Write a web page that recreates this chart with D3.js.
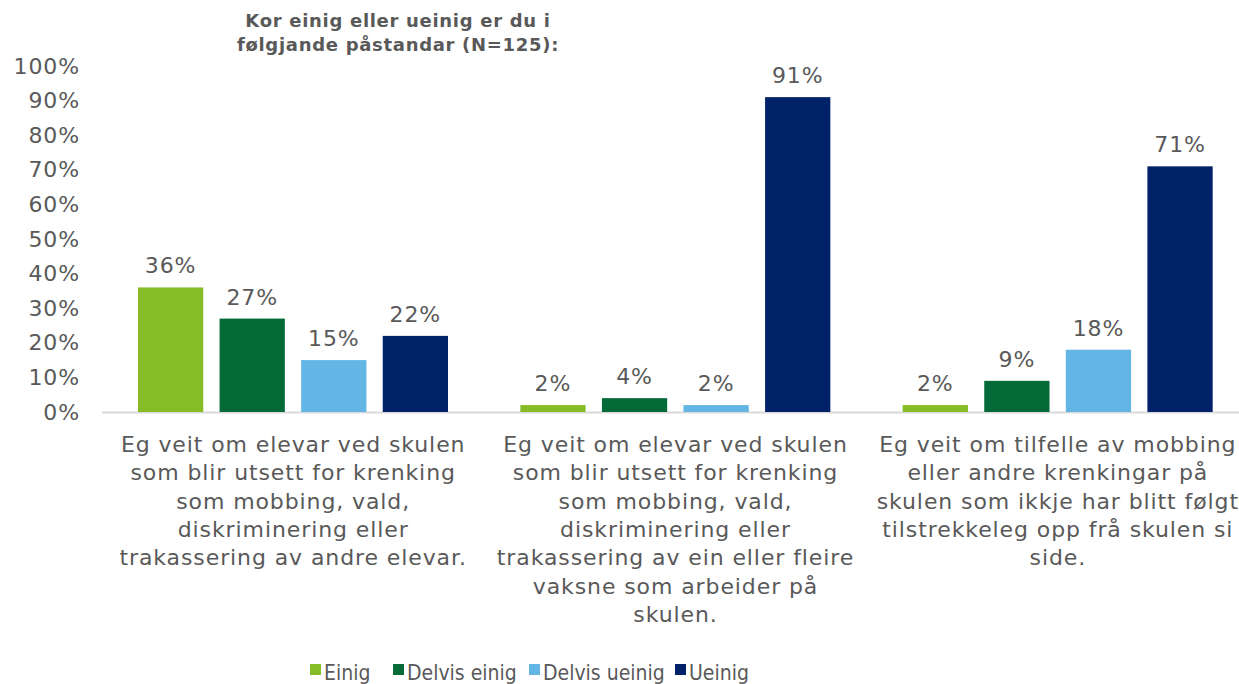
<!DOCTYPE html>
<html lang="en">
<head>
    <meta charset="UTF-8">
    <title>Kor einig eller ueinig</title>
    <style>
        body { margin: 0; background: #fff; }
        svg { display: block; font-family: "DejaVu Sans", Verdana, sans-serif; }
    </style>
    <script src="https://d3js.org/d3.v7.min.js"></script>
</head>
<body>
    <svg width="1239" height="684"></svg>

    <script>
        // categories are kept as the wrapped lines shown in the chart
        const categories = [
            ['Eg veit om elevar ved skulen', 'som blir utsett for krenking', 'som mobbing, vald,', 'diskriminering eller', 'trakassering av andre elevar.'],
            ['Eg veit om elevar ved skulen', 'som blir utsett for krenking', 'som mobbing, vald,', 'diskriminering eller', 'trakassering av ein eller fleire', 'vaksne som arbeider på', 'skulen.'],
            ['Eg veit om tilfelle av mobbing', 'eller andre krenkingar på', 'skulen som ikkje har blitt følgt', 'tilstrekkeleg opp frå skulen si', 'side.']
        ];
        const seriesNames = ['Einig', 'Delvis einig', 'Delvis ueinig', 'Ueinig'];
        const seriesColors = ['#86bc25', '#046a38', '#62b5e5', '#012169'];
        const einig = [36, 2, 2];
        const delvisEinig = [27, 4, 9];
        const delvisUeinig = [15, 2, 18];
        const ueinig = [22, 91, 71];
        const yTicks = [0, 10, 20, 30, 40, 50, 60, 70, 80, 90, 100];

        const series = [einig, delvisEinig, delvisUeinig, ueinig];
        const textColor = '#595959';
        const fontSize = 22;
        const spacing = 0.9;

        const svg = d3.select('svg');

        const x = d3.scaleBand()
            .domain(d3.range(categories.length))
            .range([102, 1249])
            .paddingInner(0)
            .paddingOuter(0);

        const xInner = d3.scaleBand()
            .domain(d3.range(seriesNames.length))
            .range([36, 346])
            .paddingInner(0.2);

        const y = d3.scaleLinear()
            .domain([0, 100])
            .range([412, 66]);

        // title
        svg.append('text')
            .attr('x', 398)
            .attr('y', 27)
            .attr('text-anchor', 'middle')
            .attr('font-size', 18)
            .attr('font-weight', 'bold')
            .attr('letter-spacing', 0.7)
            .attr('fill', textColor)
            .selectAll('tspan')
            .data(['Kor einig eller ueinig er du i', 'følgjande påstandar (N=125):'])
            .join('tspan')
            .attr('x', 398)
            .attr('dy', (d, i) => i === 0 ? 0 : 24)
            .text(d => d);

        // y axis labels
        const yAxis = d3.axisLeft(y)
            .tickValues(yTicks)
            .tickFormat(d => d + '%')
            .tickSize(0)
            .tickPadding(0);

        svg.append('g')
            .attr('transform', 'translate(80,0)')
            .call(yAxis)
            .call(g => g.select('.domain').remove())
            .selectAll('text')
            .attr('font-size', fontSize)
            .attr('letter-spacing', spacing)
            .attr('font-family', '"DejaVu Sans", Verdana, sans-serif')
            .attr('fill', textColor);

        // baseline
        svg.append('line')
            .attr('x1', 102)
            .attr('x2', 1239)
            .attr('y1', y(0) + 0.5)
            .attr('y2', y(0) + 0.5)
            .attr('stroke', '#d9d9d9')
            .attr('stroke-width', 2);

        // bars
        const groups = svg.append('g')
            .selectAll('g')
            .data(categories)
            .join('g')
            .attr('transform', (d, i) => `translate(${x(i)},0)`);

        groups.each(function (cat, ci) {
            const g = d3.select(this);
            series.forEach((vals, si) => {
                g.append('rect')
                    .attr('x', xInner(si))
                    .attr('y', y(vals[ci]))
                    .attr('width', xInner.bandwidth())
                    .attr('height', y(0) - y(vals[ci]))
                    .attr('fill', seriesColors[si]);

                g.append('text')
                    .attr('x', xInner(si) + xInner.bandwidth() / 2)
                    .attr('y', y(vals[ci]) - 14)
                    .attr('text-anchor', 'middle')
                    .attr('font-size', fontSize)
                    .attr('letter-spacing', spacing)
                    .attr('fill', textColor)
                    .text(vals[ci] + '%');
            });

            g.append('text')
                .attr('text-anchor', 'middle')
                .attr('font-size', fontSize)
                .attr('letter-spacing', spacing)
                .attr('fill', textColor)
                .selectAll('tspan')
                .data(cat)
                .join('tspan')
                .attr('x', x.bandwidth() / 2)
                .attr('y', (d, i) => 452 + i * 28.3)
                .text(d => d);
        });

        // legend
        const legendX = [310, 393, 529, 675];
        const legend = svg.append('g')
            .selectAll('g')
            .data(seriesNames)
            .join('g')
            .attr('transform', (d, i) => `translate(${legendX[i]},0)`);

        legend.append('rect')
            .attr('x', 0)
            .attr('y', 664)
            .attr('width', 11)
            .attr('height', 11)
            .attr('fill', (d, i) => seriesColors[i]);

        legend.append('text')
            .attr('x', 14)
            .attr('y', 680)
            .attr('font-size', 21)
            .attr('font-family', '"DejaVu Sans Condensed", "Liberation Sans Narrow", "Liberation Sans", sans-serif')
            .attr('font-stretch', 'condensed')
            .attr('fill', textColor)
            .text(d => d);
    </script>
</body>
</html>
